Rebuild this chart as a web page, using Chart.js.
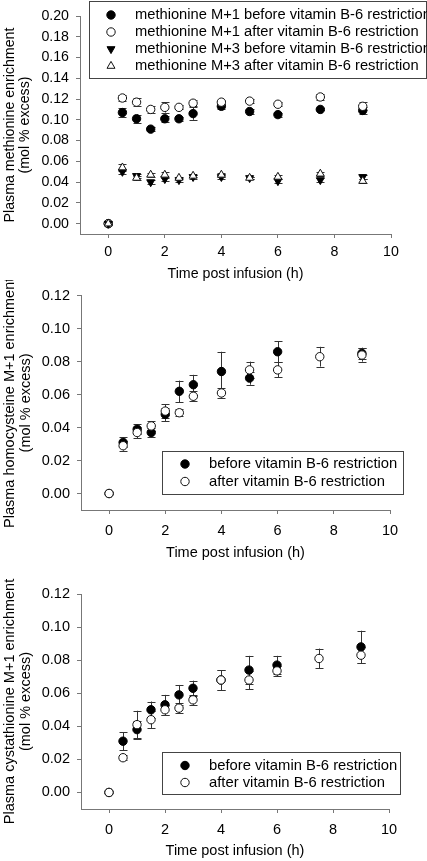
<!DOCTYPE html>
<html><head><meta charset="utf-8">
<script src="https://cdn.jsdelivr.net/npm/chart.js@4/dist/chart.umd.min.js"></script>
<style>
html,body{margin:0;padding:0;background:#fff;width:427px;height:861px;overflow:hidden}
.box{position:absolute;left:0;width:427px}
canvas{display:block}
</style></head><body>
<div class="box" style="top:0;height:285px"><canvas id="c1" width="427" height="285"></canvas></div>
<div class="box" style="top:280px;height:285px"><canvas id="c2" width="427" height="285"></canvas></div>
<div class="box" style="top:560px;height:301px"><canvas id="c3" width="427" height="301"></canvas></div>
<script>
// ---- data ----
const timeH = [0, 0.5, 1, 1.5, 2, 2.5, 3, 4, 5, 6, 7.5, 9];
const xTicks = [0, 2, 4, 6, 8, 10];
const yTicksTop = [0, 0.02, 0.04, 0.06, 0.08, 0.10, 0.12, 0.14, 0.16, 0.18, 0.20];
const yTicksLower = [0, 0.02, 0.04, 0.06, 0.08, 0.10, 0.12];

const metM1Before    = [0, 0.107, 0.101, 0.091, 0.101, 0.101, 0.106, 0.113, 0.108, 0.105, 0.110, 0.109];
const metM1BeforeErr = [0, 0.004, 0.004, 0.002, 0.003, 0.002, 0.006, 0.003, 0.002, 0.002, 0.001, 0.003];
const metM1After     = [0, 0.121, 0.117, 0.110, 0.112, 0.112, 0.116, 0.117, 0.118, 0.115, 0.122, 0.113];
const metM1AfterErr  = [0, 0.003, 0.004, 0.003, 0.005, 0.002, 0.003, 0.002, 0.002, 0.002, 0.003, 0.004];
const metM3Before    = [0, 0.050, 0.046, 0.040, 0.043, 0.042, 0.045, 0.045, 0.044, 0.041, 0.042, 0.045];
const metM3BeforeErr = [0, 0.002, 0.002, 0.002, 0.002, 0.002, 0.002, 0.002, 0.001, 0.002, 0.002, 0.002];
const metM3After     = [0, 0.054, 0.044, 0.047, 0.047, 0.044, 0.046, 0.047, 0.044, 0.045, 0.048, 0.041];
const metM3AfterErr  = [0, 0.003, 0.002, 0.002, 0.003, 0.001, 0.001, 0.002, 0.001, 0.002, 0.002, 0.002];

const hcyBefore    = [0, 0.031, 0.039, 0.037, 0.048, 0.062, 0.066, 0.074, 0.070, 0.086, null, 0.085];
const hcyBeforeErr = [0, 0.003, 0.003, 0.003, 0.004, 0.0065, 0.006, 0.012, 0.004, 0.0065, null, 0.0035];
const hcyAfter     = [0, 0.029, 0.037, 0.041, 0.050, 0.049, 0.059, 0.061, 0.075, 0.075, 0.083, 0.084];
const hcyAfterErr  = [0, 0.003, 0.0035, 0.003, 0.004, 0.002, 0.003, 0.003, 0.005, 0.0045, 0.006, 0.004];

const cysBefore    = [0, 0.031, 0.038, 0.050, 0.053, 0.059, 0.063, 0.068, 0.074, 0.077, null, 0.088];
const cysBeforeErr = [0, 0.0054, 0.005, 0.005, 0.006, 0.006, 0.0046, 0.006, 0.0086, 0.0056, null, 0.0098];
const cysAfter     = [0, 0.021, 0.041, 0.044, 0.050, 0.051, 0.056, 0.068, 0.068, 0.0735, 0.081, 0.083];
const cysAfterErr  = [0, 0.0015, 0.0084, 0.005, 0.003, 0.003, 0.003, 0.006, 0.0055, 0.003, 0.006, 0.005];

const labelsTop = [
  'methionine M+1 before vitamin B-6 restriction',
  'methionine M+1 after vitamin B-6 restriction',
  'methionine M+3 before vitamin B-6 restriction',
  'methionine M+3 after vitamin B-6 restriction'
];
const labelsLower = ['before vitamin B-6 restriction', 'after vitamin B-6 restriction'];
const xTitle = 'Time post infusion (h)';
const yTitleTop = ['Plasma methionine enrichment', '(mol % excess)'];
const yTitleMid = ['Plasma homocysteine M+1 enrichment', '(mol % excess)'];
const yTitleBot = ['Plasma cystathionine M+1 enrichment', '(mol % excess)'];

// ---- helpers ----
const FONT = "'Liberation Sans', Arial, Helvetica, sans-serif";
const AXIS = '#777';

function pts(vals) {
  const out = [];
  timeH.forEach((t, i) => { if (vals[i] !== null && vals[i] !== undefined) out.push({x: t, y: vals[i]}); });
  return out;
}
function errs(vals, e) {
  const out = [];
  timeH.forEach((t, i) => { if (vals[i] !== null && vals[i] !== undefined) out.push(e[i]); });
  return out;
}
function ds(label, vals, e, style, order) {
  return Object.assign({
    label, data: pts(vals), errorBars: errs(vals, e), order,
    pointRadius: 4.2, pointHoverRadius: 4.2, borderWidth: 1, pointBorderWidth: 1,
    borderColor: '#000', pointBorderColor: '#000', showLine: false
  }, style);
}
const filledCircle = {pointStyle: 'circle', backgroundColor: '#000', pointBackgroundColor: '#000'};
const openCircle = {pointStyle: 'circle', backgroundColor: '#fff', pointBackgroundColor: '#fff', pointBorderColor: '#111'};
const downTri = {pointStyle: 'triangle', pointRotation: 180, rotation: 180, pointRadius: 4.6, backgroundColor: '#000', pointBackgroundColor: '#000'};
const upTri = {pointStyle: 'triangle', pointRadius: 4.6, backgroundColor: '#fff', pointBackgroundColor: '#fff', pointBorderColor: '#111'};

const errorBarPlugin = {
  id: 'errorBars',
  beforeDatasetsDraw(chart) {
    const ctx = chart.ctx, ys = chart.scales.y;
    ctx.save();
    ctx.strokeStyle = '#333';
    ctx.lineWidth = 1;
    chart.data.datasets.forEach((d, i) => {
      const meta = chart.getDatasetMeta(i);
      meta.data.forEach((p, j) => {
        const e = d.errorBars[j];
        if (!e) return;
        const v = d.data[j].y;
        const x = Math.round(p.x) + 0.5;
        const y1 = ys.getPixelForValue(v + e), y2 = ys.getPixelForValue(v - e);
        ctx.beginPath();
        ctx.moveTo(x, y1); ctx.lineTo(x, y2);
        ctx.moveTo(x - 4, Math.round(y1) + 0.5); ctx.lineTo(x + 4, Math.round(y1) + 0.5);
        ctx.moveTo(x - 4, Math.round(y2) + 0.5); ctx.lineTo(x + 4, Math.round(y2) + 0.5);
        ctx.stroke();
      });
    });
    ctx.restore();
  }
};

const boxLegendPlugin = {
  id: 'boxLegend',
  afterDraw(chart, args, o) {
    const ctx = chart.ctx;
    ctx.save();
    ctx.fillStyle = '#fff';
    ctx.fillRect(o.box[0], o.box[1], o.box[2] - o.box[0], o.box[3] - o.box[1]);
    ctx.strokeStyle = '#444';
    ctx.lineWidth = 1;
    ctx.strokeRect(o.box[0] + 0.5, o.box[1] + 0.5, o.box[2] - o.box[0] - 1, o.box[3] - o.box[1] - 1);
    const list = chart.data.datasets.slice().sort((a, b) => a.legendIndex - b.legendIndex);
    list.forEach((d, k) => {
      const y = o.rowY[k];
      ctx.fillStyle = d.pointBackgroundColor;
      ctx.strokeStyle = d.pointBorderColor;
      ctx.lineWidth = 1;
      Chart.helpers.drawPoint(ctx, {pointStyle: d.pointStyle, radius: d.pointRadius, rotation: d.pointRotation || 0, borderWidth: 1}, o.markerX, y);
      ctx.fillStyle = '#000';
      ctx.font = o.fontSize + 'px ' + FONT;
      ctx.textBaseline = 'middle';
      ctx.textAlign = 'left';
      ctx.fillText(d.label, o.textX, y);
    });
    ctx.restore();
  }
};

function makeChart(id, datasets, p) {
  return new Chart(document.getElementById(id), {
    type: 'scatter',
    data: {datasets},
    plugins: [errorBarPlugin, boxLegendPlugin],
    options: {
      responsive: false, animation: false, events: [],
      layout: {padding: {top: p.padTop, right: p.padRight, bottom: p.padBottom, left: 0}},
      plugins: {legend: {display: false}, tooltip: {enabled: false}, boxLegend: p.legend},
      scales: {
        x: {
          type: 'linear', min: -1, max: 10,
          afterBuildTicks: s => { s.ticks = xTicks.map(v => ({value: v})); },
          afterFit: s => { s.height = p.xH; },
          grid: {drawOnChartArea: false, drawTicks: true, tickLength: 4, color: AXIS},
          border: {display: true, color: AXIS, width: 1},
          ticks: {color: '#000', autoSkip: false, maxRotation: 0, padding: p.xPad,
                  font: {family: FONT, size: p.fs}, callback: v => String(v)},
          title: {display: true, text: xTitle, color: '#000', padding: {top: 0, bottom: 0},
                  font: {family: FONT, size: p.fs, lineHeight: 1.07}}
        },
        y: {
          type: 'linear', min: -0.01, max: p.yMax,
          afterBuildTicks: s => { s.ticks = p.yTicks.map(v => ({value: v})); },
          afterFit: s => { s.width = p.yW; },
          grid: {drawOnChartArea: false, drawTicks: true, tickLength: 4, color: AXIS},
          border: {display: true, color: AXIS, width: 1},
          ticks: {color: '#000', autoSkip: false, padding: 7,
                  font: {family: FONT, size: p.fs}, callback: v => v.toFixed(2)},
          title: {display: true, text: p.yTitle, color: '#000', padding: {top: 2.5, bottom: 0},
                  font: {family: FONT, size: p.fs, lineHeight: 1.07}}
        }
      }
    }
  });
}

makeChart('c1', [
  Object.assign(ds(labelsTop[0], metM1Before, metM1BeforeErr, filledCircle, 4), {legendIndex: 0}),
  Object.assign(ds(labelsTop[1], metM1After, metM1AfterErr, openCircle, 3), {legendIndex: 1}),
  Object.assign(ds(labelsTop[2], metM3Before, metM3BeforeErr, downTri, 2), {legendIndex: 2}),
  Object.assign(ds(labelsTop[3], metM3After, metM3AfterErr, upTri, 1), {legendIndex: 3})
], {
  padTop: 16, padRight: 36, padBottom: 3, xH: 48, yW: 80, xPad: 6, fs: 14.2,
  yMax: 0.20, yTicks: yTicksTop, yTitle: yTitleTop,
  legend: {box: [89, 1, 427, 79], markerX: 111, textX: 135, rowY: [15, 32, 49, 66], fontSize: 14.7}
});

makeChart('c2', [
  Object.assign(ds(labelsLower[0], hcyBefore, hcyBeforeErr, filledCircle, 2), {legendIndex: 0}),
  Object.assign(ds(labelsLower[1], hcyAfter, hcyAfterErr, openCircle, 1), {legendIndex: 1})
], {
  padTop: 14, padRight: 37, padBottom: 4, xH: 51, yW: 81, xPad: 8, fs: 14.5,
  yMax: 0.12, yTicks: yTicksLower, yTitle: yTitleMid,
  legend: {box: [162, 171, 404, 215], markerX: 185, textX: 209, rowY: [184, 201.5], fontSize: 14.8}
});

makeChart('c3', [
  Object.assign(ds(labelsLower[0], cysBefore, cysBeforeErr, filledCircle, 2), {legendIndex: 0}),
  Object.assign(ds(labelsLower[1], cysAfter, cysAfterErr, openCircle, 1), {legendIndex: 1})
], {
  padTop: 34, padRight: 38, padBottom: 2, xH: 50, yW: 81, xPad: 8, fs: 14.5,
  yMax: 0.12, yTicks: yTicksLower, yTitle: yTitleBot,
  legend: {box: [162, 192, 401, 235], markerX: 185, textX: 209, rowY: [205.5, 222.5], fontSize: 14.8}
});
</script>
</body></html>
